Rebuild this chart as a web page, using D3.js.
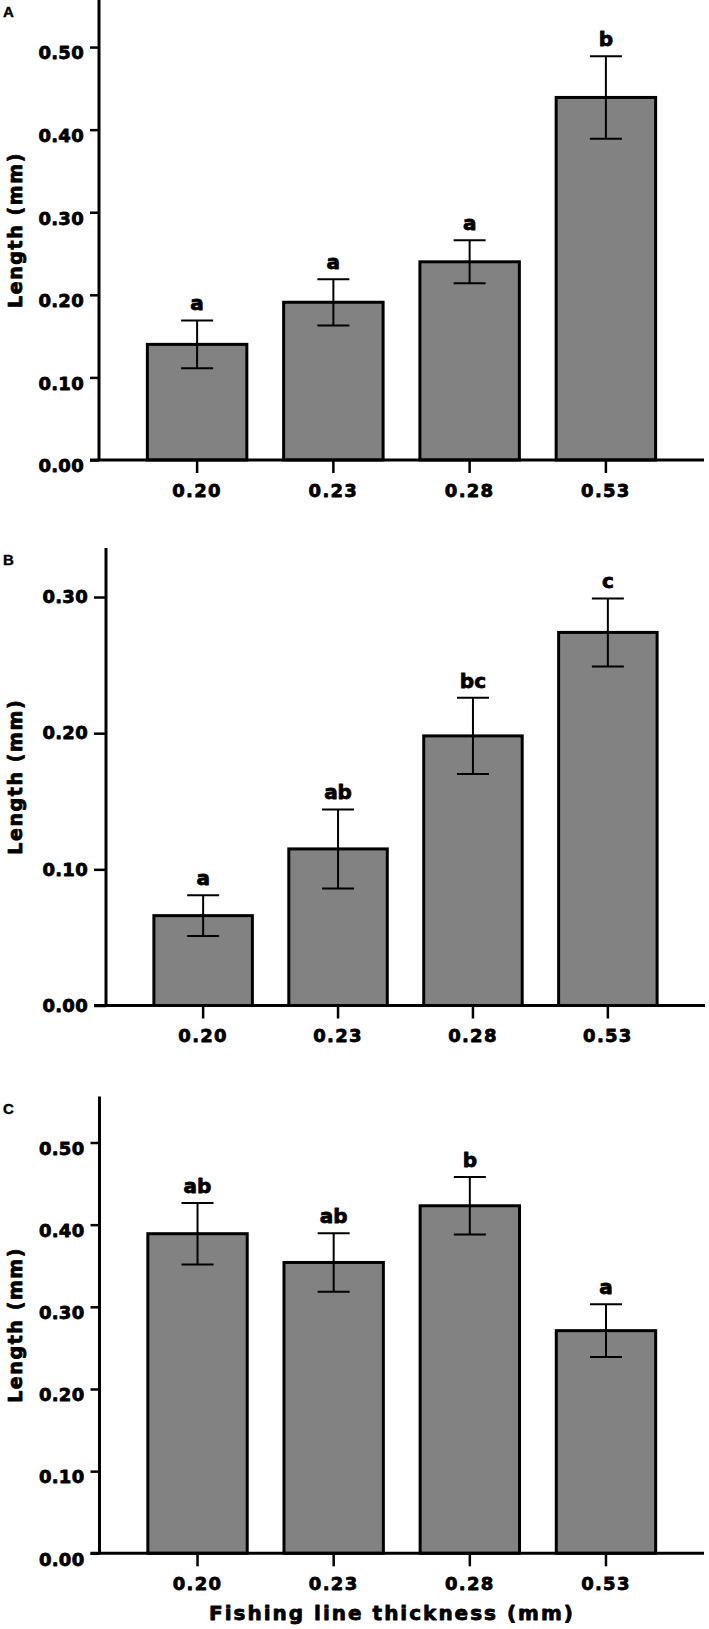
<!DOCTYPE html>
<html><head><meta charset="utf-8">
<script src="https://cdn.jsdelivr.net/npm/d3@7/dist/d3.min.js"></script>
<style>body{margin:0;background:#fff}</style>
</head><body><svg id="c" width="709" height="1629"></svg>
<script>
// ---- data ----
const categories = ["0.20", "0.23", "0.28", "0.53"];

const meanA = [0.140, 0.191, 0.240, 0.439];
const errA  = [0.029, 0.028, 0.026, 0.050];
const lettersA = ["a", "a", "a", "b"];
const ticksA = [0.00, 0.10, 0.20, 0.30, 0.40, 0.50];

const meanB = [0.066, 0.115, 0.198, 0.274];
const errB  = [0.015, 0.029, 0.028, 0.025];
const lettersB = ["a", "ab", "bc", "c"];
const ticksB = [0.00, 0.10, 0.20, 0.30];

const meanC = [0.389, 0.354, 0.423, 0.271];
const errC  = [0.0375, 0.0355, 0.035, 0.032];
const lettersC = ["ab", "ab", "b", "a"];
const ticksC = [0.00, 0.10, 0.20, 0.30, 0.40, 0.50];

const yTitle = "Length (mm)";
const xTitle = "Fishing line thickness (mm)";

// ---- layout ----
const panels = [
  {name: "A", mean: meanA, err: errA, letters: lettersA, ticks: ticksA, yMax: 0.557, top: 0,      base: 460,    x0: 99,  x1: 704, tickLen: 9,  labelDy: 6},
  {name: "B", mean: meanB, err: errB, letters: lettersB, ticks: ticksB, yMax: 0.336, top: 548,    base: 1005.5, x0: 106, x1: 705, tickLen: 12, labelDy: 0},
  {name: "C", mean: meanC, err: errC, letters: lettersC, ticks: ticksC, yMax: 0.556, top: 1096.5, base: 1553.3, x0: 99.5, x1: 704, tickLen: 9, labelDy: 6}
];

const FONT = "'DejaVu Sans', Verdana, sans-serif";
const HEAVY = 0.8; // extra stroke to mimic a black-weight face
const svg = d3.select("#c");
const fmt = d3.format(".2f");

function heavy(sel, w) {
  return sel.attr("stroke", "#000").attr("stroke-width", w == null ? HEAVY : w)
    .attr("stroke-linejoin", "round").attr("fill", "#000");
}

panels.forEach(p => {
  const g = svg.append("g");
  const x = d3.scaleBand().domain(categories).range([p.x0, p.x1])
    .paddingInner(0.27).paddingOuter(0.355);
  const y = d3.scaleLinear().domain([0, p.yMax]).range([p.base, p.top]);

  // bars
  g.selectAll("rect.bar").data(categories).join("rect")
    .attr("class", "bar")
    .attr("x", d => x(d))
    .attr("width", x.bandwidth())
    .attr("y", (d, i) => y(p.mean[i]))
    .attr("height", (d, i) => y(0) - y(p.mean[i]))
    .attr("fill", "#828282")
    .attr("stroke", "#000")
    .attr("stroke-width", 3);

  // error bars
  const cx = d => x(d) + x.bandwidth() / 2;
  const capW = 16;
  const eb = g.selectAll("g.err").data(categories).join("g").attr("class", "err")
    .attr("stroke", "#000").attr("stroke-width", 2);
  eb.append("line")
    .attr("x1", cx).attr("x2", cx)
    .attr("y1", (d, i) => y(p.mean[i] + p.err[i]))
    .attr("y2", (d, i) => y(p.mean[i] - p.err[i]));
  eb.append("line")
    .attr("x1", d => cx(d) - capW).attr("x2", d => cx(d) + capW)
    .attr("y1", (d, i) => y(p.mean[i] + p.err[i]))
    .attr("y2", (d, i) => y(p.mean[i] + p.err[i]));
  eb.append("line")
    .attr("x1", d => cx(d) - capW).attr("x2", d => cx(d) + capW)
    .attr("y1", (d, i) => y(p.mean[i] - p.err[i]))
    .attr("y2", (d, i) => y(p.mean[i] - p.err[i]));

  // significance letters
  heavy(g.selectAll("text.sig").data(categories).join("text")
    .attr("class", "sig")
    .attr("x", cx)
    .attr("y", (d, i) => y(p.mean[i] + p.err[i]) - 10)
    .attr("text-anchor", "middle")
    .attr("font-family", FONT).attr("font-weight", "bold").attr("font-size", 20)
    .text((d, i) => p.letters[i]));

  // y axis
  const ya = g.append("g").attr("transform", `translate(${p.x0},0)`)
    .call(d3.axisLeft(y).tickValues(p.ticks).tickFormat(fmt)
      .tickSize(p.tickLen).tickPadding(6));
  ya.select(".domain").remove();
  ya.selectAll(".tick line").attr("stroke", "#000").attr("stroke-width", 2.5);
  heavy(ya.selectAll(".tick text")
    .attr("font-family", FONT).attr("font-weight", "bold").attr("font-size", 18)
    .attr("y", p.labelDy).attr("letter-spacing", 0.3));

  // x axis
  const xa = g.append("g").attr("transform", `translate(0,${p.base})`)
    .call(d3.axisBottom(x).tickSize(13).tickPadding(11));
  xa.select(".domain").remove();
  xa.selectAll(".tick line").attr("stroke", "#000").attr("stroke-width", 2.5);
  heavy(xa.selectAll(".tick text")
    .attr("font-family", FONT).attr("font-weight", "bold").attr("font-size", 18)
    .attr("letter-spacing", 1.3));

  // axis lines
  g.append("line")
    .attr("x1", p.x0).attr("x2", p.x0)
    .attr("y1", y(p.yMax)).attr("y2", y(0))
    .attr("stroke", "#000").attr("stroke-width", 3);
  g.append("line")
    .attr("x1", p.x0 - p.tickLen).attr("x2", p.x1)
    .attr("y1", y(0)).attr("y2", y(0))
    .attr("stroke", "#000").attr("stroke-width", 3);

  // y title
  const ym = (y(0) + y(p.yMax)) / 2;
  heavy(g.append("text")
    .attr("transform", `translate(22,${ym}) rotate(-90)`)
    .attr("text-anchor", "middle")
    .attr("font-family", FONT).attr("font-weight", "bold").attr("font-size", 19)
    .attr("letter-spacing", 1.6)
    .text(yTitle));

  // panel letter
  heavy(g.append("text")
    .attr("x", 3).attr("y", p.top + 17)
    .attr("font-family", "'Liberation Sans', Arial, sans-serif")
    .attr("font-weight", "bold").attr("font-size", 15)
    .text(p.name), 0.4);

  if (p.name === "C") {
    heavy(g.append("text")
      .attr("x", 392).attr("y", p.base + 67)
      .attr("text-anchor", "middle")
      .attr("font-family", FONT).attr("font-weight", "bold").attr("font-size", 20)
      .attr("letter-spacing", 2.0)
      .text(xTitle));
  }
});
</script>
</body></html>
